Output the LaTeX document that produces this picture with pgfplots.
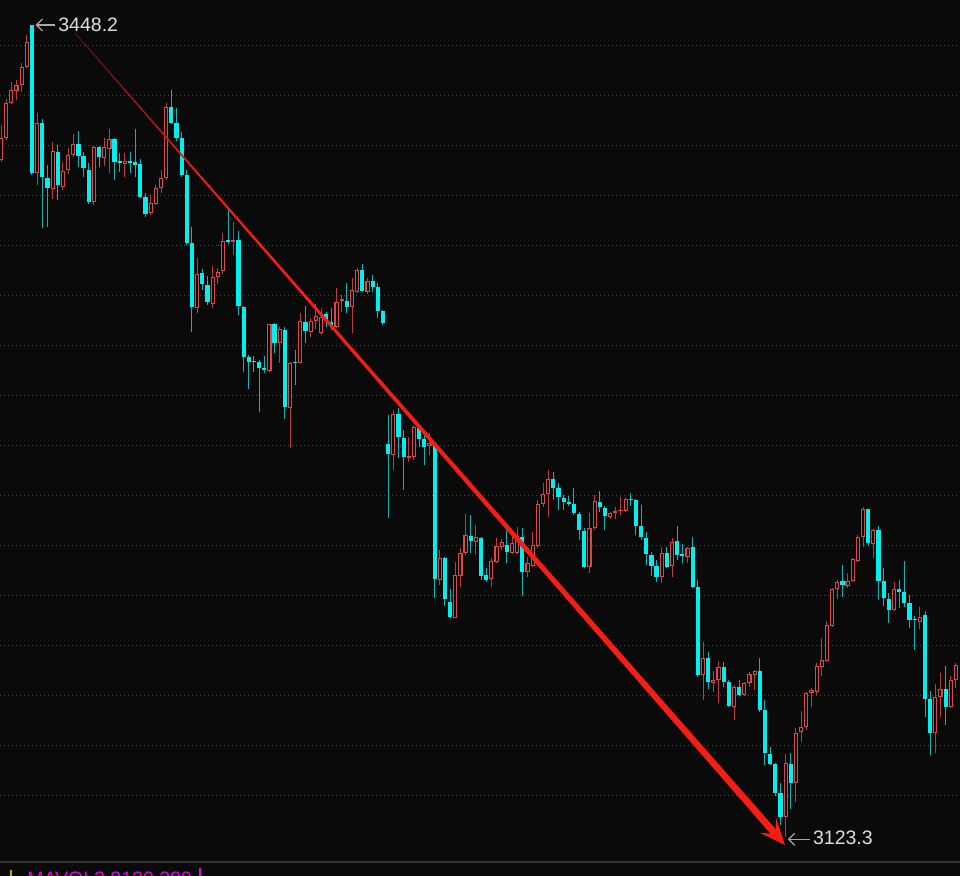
\documentclass[border=0pt]{standalone}
\usepackage{pgfplots}
\pgfplotsset{compat=1.18}
\usepackage{pgfplotstable}
\usepackage{fontspec}
\setmainfont{Liberation Sans}
\usetikzlibrary{arrows.meta}
\definecolor{bg}{RGB}{10,10,10}
\definecolor{upc}{RGB}{225,70,70}
\definecolor{upw}{RGB}{190,60,60}
\definecolor{dnc}{RGB}{0,240,240}
\definecolor{dnw}{RGB}{0,185,185}
\definecolor{gridc}{RGB}{72,72,72}
\definecolor{trend}{RGB}{245,30,20}
\definecolor{trenddark}{RGB}{110,15,10}
\definecolor{lbl}{RGB}{222,222,222}
\definecolor{arr}{RGB}{170,170,170}
\definecolor{mag}{RGB}{230,0,230}
\definecolor{yel}{RGB}{190,170,0}
\definecolor{sep}{RGB}{50,50,50}

\pgfplotstableread{
k o h l c
0 3394.2 3408.2 3393.4 3403.0
1 3403.0 3418.6 3402.2 3417.0
2 3417.0 3425.4 3416.6 3422.2
3 3421.8 3426.2 3418.2 3424.2
4 3424.2 3433.0 3421.4 3431.4
5 3431.4 3444.2 3431.0 3441.4
7 3389.0 3413.0 3384.2 3409.0
10 3382.6 3401.4 3378.6 3397.8
12 3383.4 3393.4 3382.2 3389.8
13 3390.2 3399.0 3388.6 3396.2
14 3396.2 3404.6 3395.4 3400.6
18 3377.4 3399.8 3376.2 3399.4
20 3395.0 3403.0 3391.8 3399.4
21 3398.6 3406.6 3389.0 3402.6
24 3392.6 3397.0 3387.4 3393.8
29 3373.0 3380.2 3372.2 3377.0
30 3376.6 3384.2 3376.2 3383.0
31 3383.0 3390.2 3381.0 3387.0
32 3387.0 3417.0 3386.2 3415.4
38 3335.0 3355.0 3333.0 3348.6
41 3336.6 3351.8 3335.0 3347.4
42 3347.4 3351.0 3344.6 3349.4
43 3349.8 3365.0 3348.6 3361.8
45 3361.4 3369.4 3356.2 3362.2
52 3309.8 3328.6 3309.4 3328.6
54 3321.0 3327.4 3313.0 3326.6
56 3295.0 3313.4 3279.0 3313.0
58 3313.0 3333.0 3312.8 3329.8
60 3325.4 3331.0 3323.4 3329.8
61 3329.8 3336.6 3326.6 3331.8
62 3325.0 3335.0 3324.2 3331.4
65 3327.4 3343.0 3327.0 3337.4
66 3337.8 3340.2 3333.4 3338.6
68 3335.4 3347.0 3325.0 3342.2
69 3341.4 3351.0 3341.0 3350.2
71 3341.4 3347.0 3340.6 3345.8
76 3276.2 3294.2 3270.2 3292.6
79 3275.0 3283.4 3273.4 3275.8
80 3275.4 3288.2 3274.2 3287.4
83 3279.8 3285.0 3276.2 3281.0
85 3226.2 3238.2 3224.2 3235.0
88 3211.0 3233.4 3210.8 3228.2
89 3227.8 3239.0 3223.4 3237.0
90 3237.0 3252.6 3236.2 3244.2
92 3241.4 3248.2 3236.2 3243.4
95 3226.6 3235.0 3223.4 3233.8
96 3233.4 3243.0 3233.0 3239.8
97 3239.4 3242.6 3238.2 3241.4
99 3237.0 3244.2 3236.6 3241.0
100 3237.0 3247.4 3236.6 3243.8
102 3229.4 3235.4 3227.4 3233.0
103 3231.8 3245.4 3231.4 3240.2
104 3239.8 3258.2 3239.0 3256.6
105 3256.6 3265.0 3255.4 3260.6
106 3260.6 3270.2 3251.4 3266.6
114 3231.4 3253.0 3229.0 3247.0
115 3247.0 3260.2 3246.2 3257.8
118 3251.4 3253.4 3250.6 3253.0
119 3253.0 3255.4 3250.6 3253.8
120 3253.8 3259.4 3252.2 3254.2
121 3253.8 3259.0 3253.4 3258.6
128 3227.4 3239.4 3225.0 3237.0
130 3231.8 3243.0 3227.4 3241.4
133 3235.4 3239.4 3233.0 3239.0
136 3188.2 3201.4 3178.2 3195.0
138 3185.0 3189.8 3181.4 3186.2
139 3186.2 3193.8 3177.0 3191.4
142 3175.4 3184.2 3170.2 3183.4
144 3180.2 3185.4 3179.8 3185.0
145 3185.0 3189.4 3183.4 3188.6
146 3188.2 3190.2 3182.2 3189.8
152 3131.4 3156.6 3123.3 3153.0
154 3145.0 3167.0 3137.4 3165.0
155 3165.4 3173.8 3161.4 3167.4
156 3167.4 3181.4 3166.2 3181.0
157 3181.0 3183.0 3175.4 3182.2
158 3181.4 3193.0 3180.2 3191.8
159 3191.4 3203.0 3187.8 3194.2
160 3193.8 3209.8 3193.4 3208.2
161 3207.8 3223.0 3207.4 3222.6
162 3222.6 3226.2 3218.6 3225.4
164 3223.8 3229.0 3223.0 3225.8
165 3225.8 3235.0 3225.4 3234.6
166 3233.8 3244.2 3233.4 3243.4
167 3243.4 3255.4 3239.4 3254.6
169 3240.6 3246.6 3235.0 3246.2
173 3214.2 3225.4 3213.8 3222.6
178 3209.4 3215.4 3206.6 3211.4
181 3165.0 3184.6 3157.0 3179.4
182 3179.4 3189.0 3171.4 3182.6
184 3175.4 3187.8 3175.0 3186.2
185 3186.2 3193.0 3183.0 3192.2
}\updata

\pgfplotstableread{
k o h l c
6 3448.2 3448.2 3388.2 3389.0
8 3409.0 3410.6 3367.0 3387.4
9 3387.0 3392.2 3367.4 3383.0
11 3397.4 3400.2 3378.2 3384.2
15 3400.6 3405.8 3391.4 3395.8
16 3395.8 3397.4 3387.4 3391.0
17 3390.2 3393.0 3376.6 3377.4
19 3399.4 3399.8 3391.4 3395.4
22 3402.6 3403.0 3386.2 3393.4
23 3393.8 3397.0 3389.4 3393.0
25 3393.8 3397.4 3389.0 3393.0
26 3393.4 3406.6 3387.4 3392.2
27 3392.6 3394.6 3379.0 3379.4
28 3379.4 3381.0 3371.4 3372.6
33 3415.4 3422.2 3408.6 3409.0
34 3409.0 3415.0 3401.8 3403.0
35 3403.0 3405.4 3387.4 3388.2
36 3388.2 3390.2 3360.2 3361.0
37 3361.0 3367.4 3325.4 3335.4
39 3349.0 3350.6 3342.2 3344.6
40 3344.2 3347.8 3336.2 3337.4
44 3362.2 3375.0 3360.6 3361.4
46 3362.2 3365.8 3332.2 3335.8
47 3335.4 3335.8 3309.4 3315.4
48 3315.4 3316.2 3302.6 3313.4
49 3313.8 3315.8 3309.4 3313.4
50 3313.4 3314.2 3293.4 3311.0
51 3311.0 3315.8 3309.0 3310.2
53 3328.6 3329.0 3317.0 3321.0
55 3326.2 3327.4 3290.6 3295.4
57 3313.4 3318.2 3304.2 3313.0
59 3329.4 3335.8 3321.0 3325.8
63 3332.6 3333.4 3327.4 3330.2
64 3329.4 3335.0 3326.2 3327.8
67 3337.8 3345.0 3333.0 3335.4
70 3350.2 3352.6 3341.4 3341.8
72 3345.8 3348.2 3341.4 3343.4
73 3343.4 3345.0 3331.0 3333.8
74 3333.8 3334.2 3328.2 3329.0
75 3280.6 3292.2 3251.0 3276.6
77 3292.6 3295.0 3275.0 3283.4
78 3283.0 3286.2 3262.2 3275.4
81 3287.0 3288.2 3279.4 3282.6
82 3282.6 3284.2 3272.2 3279.4
84 3280.2 3281.0 3219.0 3226.6
86 3235.0 3235.4 3215.8 3218.6
87 3217.4 3222.6 3211.0 3211.4
91 3243.8 3252.2 3237.0 3241.8
93 3243.0 3243.4 3226.2 3227.8
94 3228.2 3231.0 3225.4 3226.2
98 3240.2 3246.2 3233.0 3237.4
101 3243.4 3247.0 3219.8 3229.4
107 3266.6 3269.4 3258.2 3263.0
108 3263.0 3265.0 3254.2 3259.4
109 3259.0 3260.2 3254.2 3257.4
110 3257.4 3259.8 3255.8 3256.6
111 3256.6 3263.0 3252.2 3253.0
112 3252.6 3253.4 3242.2 3246.2
113 3245.8 3247.0 3231.0 3231.4
116 3257.4 3261.8 3253.4 3255.4
117 3255.0 3255.8 3246.2 3251.8
122 3258.6 3261.0 3255.8 3258.2
123 3258.2 3258.6 3244.2 3247.8
124 3247.8 3256.2 3242.2 3243.4
125 3243.0 3245.4 3232.2 3236.6
126 3236.2 3237.4 3227.8 3231.8
127 3231.8 3234.2 3225.4 3227.4
129 3237.0 3239.4 3231.0 3231.4
131 3241.8 3247.8 3234.2 3236.2
132 3236.6 3240.6 3233.0 3235.8
134 3239.4 3243.4 3223.0 3223.4
135 3223.4 3226.2 3187.4 3188.2
137 3195.0 3197.4 3182.6 3185.4
140 3191.4 3193.4 3183.4 3185.4
141 3185.4 3186.2 3175.4 3175.8
143 3183.4 3186.2 3179.8 3180.2
147 3189.8 3195.0 3173.4 3174.2
148 3174.2 3178.2 3152.2 3157.0
149 3156.6 3159.4 3152.2 3152.6
150 3152.6 3153.0 3139.8 3141.0
151 3141.0 3145.0 3128.2 3131.4
153 3152.6 3157.0 3134.6 3145.0
163 3225.8 3232.2 3219.4 3224.2
168 3254.6 3254.6 3239.8 3241.0
170 3246.2 3247.8 3218.2 3225.8
171 3225.8 3231.0 3215.8 3219.0
172 3218.6 3221.0 3209.0 3214.2
174 3222.6 3226.2 3215.0 3221.4
175 3221.4 3233.8 3215.4 3217.0
176 3217.0 3220.2 3207.0 3210.2
177 3210.6 3211.8 3198.2 3210.2
179 3212.2 3213.8 3171.4 3178.6
180 3178.6 3181.8 3156.2 3165.0
183 3182.6 3191.8 3168.2 3175.4
}\dndata

\pgfplotsset{candle/.style={draw=none, mark=none, forget plot,
  error bars/.cd, y dir=plus, y explicit, error mark=none}}

\begin{document}
\begin{tikzpicture}
\useasboundingbox (0,0) rectangle (480pt,438pt);
\clip (0,0) rectangle (480pt,438pt);
\fill[bg] (0,0) rectangle (480pt,438pt);
\begin{axis}[
  at={(0,0)}, anchor=south west,
  scale only axis, width=480pt, height=438pt,
  xmin=-0.194, xmax=185.78, ymin=3107.8, ymax=3458.2,
  axis line style={draw=none},
  xtick=\empty, ytick={3140,3160,...,3440}, yticklabels={},
  major tick length=0pt,
  ymajorgrids, grid style={gridc, line width=0.5pt, dash pattern=on 0.6pt off 1.4pt},
  clip=true,
]
% wicks
\addplot[candle, error bar style={line width=0.5pt, draw=dnw, solid}]
  table[x=k, y=l, y error expr={\thisrow{h}-\thisrow{l}}] {\dndata};
\addplot[candle, error bar style={line width=0.5pt, draw=upw, solid}]
  table[x=k, y=l, y error expr={\thisrow{h}-\thisrow{l}}] {\updata};
% down bodies (filled cyan)
\addplot[candle, error bar style={line width=2.1pt, draw=dnc, solid}]
  table[x=k, y=c, y error expr={max(\thisrow{o}-\thisrow{c},0.5)}] {\dndata};
% up bodies (hollow red)
\addplot[candle, error bar style={line width=2.1pt, draw=upc, solid}]
  table[x=k, y=o, y error expr={max(\thisrow{c}-\thisrow{o},0.5)}] {\updata};
\addplot[candle, error bar style={line width=1.0pt, draw=bg, solid}]
  table[x=k, y expr={\thisrow{o}+0.4}, y error expr={max(\thisrow{c}-\thisrow{o}-0.8,0)}] {\updata};

% trend arrow: dark thin start, bright thick end
\shade[left color=trenddark, right color=trend] (axis cs:14.394,3445.10) -- (axis cs:38.69,3388.05)
  -- (axis cs:38.41,3387.55) -- (axis cs:14.277,3444.90) -- cycle;
\fill[trend] (axis cs:38.69,3388.05) -- (axis cs:150.09,3126.54) -- (axis cs:150.17,3130.92)
  -- (axis cs:151.88,3120.20) -- (axis cs:146.96,3125.13) -- (axis cs:149.07,3124.70)
  -- (axis cs:38.41,3387.55) -- cycle;

% max / min labels
\draw[arr, line width=0.6pt, -{Straight Barb[length=3pt,width=6pt]}] (axis cs:10.46,3448.2) -- (axis cs:6.70,3448.2);
\node[anchor=base west, inner sep=0pt, text=lbl, font=\fontsize{9.75pt}{11pt}\selectfont] at (axis cs:11.04,3445.4) {3448.2};
\draw[arr, line width=0.6pt, -{Straight Barb[length=3pt,width=6pt]}] (axis cs:156.73,3122.5) -- (axis cs:152.45,3122.5);
\node[anchor=base west, inner sep=0pt, text=lbl, font=\fontsize{9.75pt}{11pt}\selectfont] at (axis cs:157.25,3120.2) {3123.3};

% lower panel
\draw[sep, line width=1pt] (axis cs:-1,3113.4) -- (axis cs:190,3113.4);
\draw[yel, line width=0.6pt] (axis cs:1.94,3110.2) -- (axis cs:1.94,3100);
\draw[mag, line width=0.6pt] (axis cs:38.55,3111.0) -- (axis cs:38.55,3100);
\node[anchor=base west, inner sep=0pt, text=mag, font=\fontsize{9.75pt}{11pt}\selectfont] at (axis cs:5.04,3103.9) {MAVOL2 8120.380};
\end{axis}
\end{tikzpicture}
\end{document}
